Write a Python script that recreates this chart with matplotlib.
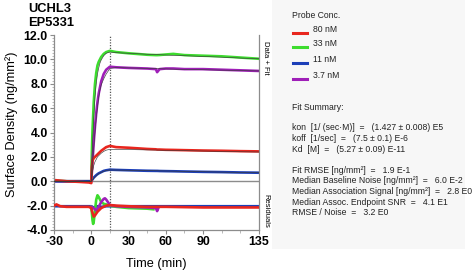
import matplotlib
matplotlib.use("Agg")
import matplotlib.pyplot as plt
from matplotlib.patches import Rectangle
from matplotlib.ticker import MultipleLocator, FixedLocator

plt.rcParams['font.family'] = ['Liberation Sans', 'DejaVu Sans']

# ---------------- data ----------------
t_data = [-30, -20, -10, -2, 0, 0.5, 1, 2, 3, 4, 5, 6, 7, 8, 10, 12, 15,
          20, 30, 45, 52, 53, 55, 60, 66, 75, 90, 105, 120, 135]

green_data = [0.05, 0.0, 0.0, 0.0, 0.0, 2.5, 4.2, 6.5, 8.0, 8.9, 9.5, 9.8, 10.0, 10.2, 10.45, 10.6, 10.7,
              10.6, 10.5, 10.38, 10.35, 10.35, 10.36, 10.4, 10.45, 10.35, 10.3, 10.25, 10.15, 10.05]
green_fit = [0.0, 0.0, 0.0, 0.0, 0.0, 1.5, 2.9, 5.2, 6.9, 8.0, 8.8, 9.3, 9.7, 9.95, 10.3, 10.5, 10.6,
             10.55, 10.5, 10.42, 10.4, 10.39, 10.38, 10.36, 10.33, 10.3, 10.24, 10.18, 10.11, 10.05]

purple_data = [0.0, 0.0, 0.0, 0.0, 0.0, 0.8, 1.6, 3.2, 4.5, 5.6, 6.5, 7.2, 7.7, 8.2, 8.8, 9.15, 9.4,
               9.35, 9.3, 9.25, 9.2, 8.95, 9.2, 9.25, 9.25, 9.2, 9.2, 9.15, 9.1, 9.05]
purple_fit = [0.0, 0.0, 0.0, 0.0, 0.0, 0.7, 1.4, 2.8, 4.1, 5.2, 6.1, 6.9, 7.5, 7.9, 8.4, 8.8, 9.25,
              9.33, 9.3, 9.26, 9.24, 9.24, 9.23, 9.22, 9.2, 9.18, 9.15, 9.12, 9.08, 9.05]

red_data = [0.1, 0.0, -0.05, -0.1, -0.15, 1.2, 1.7, 1.9, 2.0, 2.1, 2.2, 2.3, 2.4, 2.5, 2.65, 2.8, 2.9,
            2.8, 2.75, 2.65, 2.62, 2.6, 2.6, 2.58, 2.57, 2.55, 2.52, 2.5, 2.47, 2.45]
red_fit = [0.0, 0.0, 0.0, 0.0, 0.0, 0.4, 0.8, 1.3, 1.6, 1.8, 2.0, 2.1, 2.2, 2.3, 2.45, 2.55, 2.62,
           2.62, 2.6, 2.57, 2.56, 2.56, 2.55, 2.54, 2.53, 2.51, 2.48, 2.45, 2.42, 2.4]

blue_data = [0.0, 0.0, 0.0, 0.0, 0.0, 0.08, 0.15, 0.3, 0.4, 0.5, 0.58, 0.65, 0.7, 0.75, 0.85, 0.9, 0.95,
             0.93, 0.9, 0.86, 0.85, 0.85, 0.84, 0.83, 0.82, 0.8, 0.77, 0.75, 0.72, 0.7]
blue_fit = [0.0, 0.0, 0.0, 0.0, 0.0, 0.06, 0.12, 0.25, 0.36, 0.46, 0.55, 0.62, 0.68, 0.73, 0.82, 0.88, 0.93,
            0.92, 0.9, 0.87, 0.86, 0.86, 0.85, 0.84, 0.83, 0.81, 0.78, 0.75, 0.73, 0.7]

t_res_full = [-30, -28, -25, -20, -10, -2, 0, 1, 2, 3, 5, 8, 12, 15, 20, 30, 45, 60, 90, 120, 135]
red_res = [-2.0, -1.9, -2.05, -2.1, -2.1, -2.1, -2.2, -2.6, -2.9, -2.8, -2.5, -2.2, -2.0, -1.95,
           -2.0, -2.05, -2.1, -2.1, -2.15, -2.15, -2.15]
blue_res = [-2.05, -2.05, -2.05, -2.05, -2.05, -2.05, -2.05, -2.1, -2.2, -2.1, -2.05, -2.1, -2.05, -2.05,
            -2.05, -2.05, -2.05, -2.05, -2.05, -2.05, -2.05]

t_res_green = [0, 0.5, 1, 1.5, 2, 3, 4, 5, 6, 8, 10, 12, 15, 20, 30, 45, 50]
green_res = [-2.1, -2.6, -3.2, -3.5, -3.3, -2.4, -1.5, -1.15, -1.3, -1.7, -1.85, -1.9, -2.0, -2.1, -2.2, -2.25, -2.3]

t_res_purple = [0, 2, 4, 6, 8, 10, 11, 12, 14, 15, 20, 30, 45, 52, 53, 54]
purple_res = [-2.1, -2.2, -2.4, -2.1, -1.7, -1.45, -1.4, -1.5, -1.8, -1.95, -2.05, -2.1, -2.15, -2.2, -2.45, -2.2]

x_ticks = [-30, 0, 30, 60, 90, 135]
y_ticks = [-4, -2, 0, 2, 4, 6, 8, 10, 12]
legend_labels = ["80 nM", "33 nM", "11 nM", "3.7 nM"]
summary_lines = [
    "kon  [1/ (sec\u00b7M)]  =   (1.427 \u00b1 0.008) E5",
    "koff  [1/sec]  =   (7.5 \u00b1 0.1) E-6",
    "Kd  [M]  =   (5.27 \u00b1 0.09) E-11",
    "",
    "Fit RMSE [ng/mm\u00b2]  =   1.9 E-1",
    "Median Baseline Noise [ng/mm\u00b2]  =   6.0 E-2",
    "Median Association Signal [ng/mm\u00b2]  =   2.8 E0",
    "Median Assoc. Endpoint SNR  =   4.1 E1",
    "RMSE / Noise  =   3.2 E0",
]

RED, GREEN, BLUE, PURPLE = "#e8261e", "#3ddc2e", "#1c3fb8", "#9f1fb8"

W, H = 475, 272
fig = plt.figure(figsize=(W / 100, H / 100), dpi=100)

def fx(px):
    return px / W

def fy(py):
    return 1 - py / H

# right info panel
fig.patches.append(Rectangle((fx(272), fy(249)), fx(465) - fx(272), fy(0) - fy(249),
                             transform=fig.transFigure, facecolor="#f7f7f7", edgecolor="none", zorder=0))

ax = fig.add_axes([fx(54), fy(230), fx(259) - fx(54), fy(35) - fy(230)])
ax.set_xlim(-30, 135)
ax.set_ylim(-4, 12)

ax.axhline(0, color="#8c8c8c", lw=1.0, zorder=1)
ax.axvline(15, color="#555555", lw=0.9, ls=(0, (1, 1.2)), zorder=1)

lw_d = 1.9
for data, fit, c in [(green_data, green_fit, GREEN), (purple_data, purple_fit, PURPLE),
                     (blue_data, blue_fit, BLUE), (red_data, red_fit, RED)]:
    ax.plot(t_data, data, color=c, lw=lw_d, zorder=2, solid_joinstyle="round")
    ax.plot(t_data, fit, color="#3a3a3a", lw=0.45, zorder=3)

ax.plot(t_res_full, blue_res, color=BLUE, lw=lw_d, zorder=2)
ax.plot(t_res_green, green_res, color=GREEN, lw=lw_d, zorder=2)
ax.plot(t_res_purple, purple_res, color=PURPLE, lw=lw_d, zorder=2)
ax.plot(t_res_full, red_res, color=RED, lw=lw_d, zorder=3)

for s in ["left", "bottom", "right"]:
    ax.spines[s].set_color("#8c8c8c")
    ax.spines[s].set_linewidth(0.9)
ax.spines["top"].set_visible(False)

ax.xaxis.set_major_locator(FixedLocator(x_ticks))
ax.xaxis.set_minor_locator(MultipleLocator(15))
ax.yaxis.set_major_locator(FixedLocator(y_ticks))
ax.yaxis.set_minor_locator(MultipleLocator(0.25))
ax.set_xticklabels([str(v) for v in x_ticks])
ax.set_yticklabels([f"{v:.1f}" for v in y_ticks])
ax.tick_params(which="major", length=3, width=0.8, color="#8c8c8c", labelsize=8.9, pad=1.5)
ax.tick_params(which="minor", length=1.8, width=0.5, color="#9c9c9c")
ax.tick_params(axis="y", which="both", right=False)
for lab in ax.get_xticklabels() + ax.get_yticklabels():
    lab.set_fontweight("bold")

ax.set_xlabel("Time (min)", fontsize=9.2)
ax.xaxis.set_label_coords(0.5, (fy(264) - fy(230)) / (fy(35) - fy(230)))
ax.xaxis.label.set_va("center")
ax.set_ylabel("Surface Density (ng/mm\u00b2)", fontsize=9.2)
ax.yaxis.set_label_coords((fx(12) - fx(54)) / (fx(259) - fx(54)),
                          (fy(124) - fy(230)) / (fy(35) - fy(230)))
ax.yaxis.label.set_va("center")

fig.text(fx(28), fy(9), "UCHL3", fontsize=9.3, fontweight="bold", va="center", ha="left")
fig.text(fx(28), fy(23), "EP5331", fontsize=9.3, fontweight="bold", va="center", ha="left")

fig.text(fx(266), fy(58), "Data + Fit", fontsize=5.5, rotation=-90, va="center", ha="center")
fig.text(fx(266), fy(211), "Residuals", fontsize=5.5, rotation=-90, va="center", ha="center")

# legend
fs = 6.2
fig.text(fx(292), fy(16), "Probe Conc.", fontsize=fs, va="center", ha="left", color="#222222")
for i, (lab, c) in enumerate(zip(legend_labels, [RED, GREEN, BLUE, PURPLE])):
    y = [31, 46, 61, 77][i]
    fig.add_artist(plt.Line2D([fx(293), fx(307)], [fy(y + 1.5), fy(y + 1.5)], transform=fig.transFigure,
                              color=c, lw=2.2))
    fig.text(fx(313), fy(y - 2), lab, fontsize=fs, va="center", ha="left", color="#222222")

fig.text(fx(292), fy(108), "Fit Summary:", fontsize=fs, va="center", ha="left", color="#222222")
y = 128
for line in summary_lines:
    if line:
        fig.text(fx(292), fy(y), line, fontsize=fs, va="center", ha="left", color="#222222")
    y += 10.7 if line else 10

fig.savefig("out.png", dpi=100)
